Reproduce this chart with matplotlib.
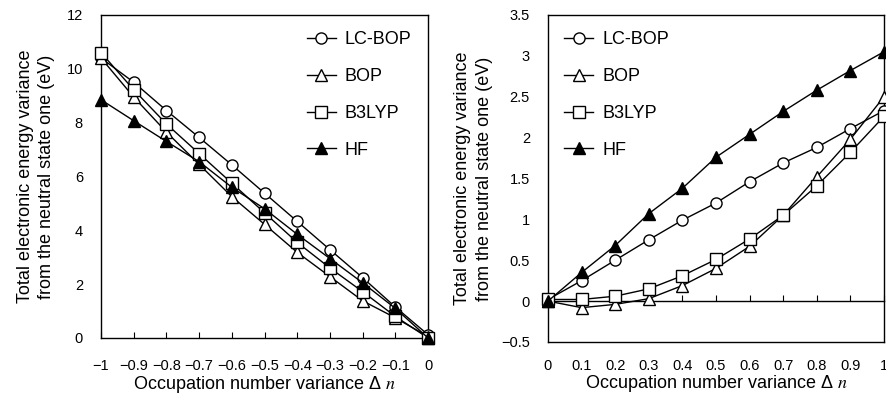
import matplotlib
matplotlib.use("Agg")
import matplotlib.pyplot as plt

plt.rcParams['font.family'] = ['Liberation Sans', 'DejaVu Sans']
plt.rcParams['mathtext.fontset'] = 'stix'

# left panel: negative occupation change
x_left = [-1.0, -0.9, -0.8, -0.7, -0.6, -0.5, -0.4, -0.3, -0.2, -0.1, 0.0]
lcbop_left = [10.4, 9.5, 8.45, 7.45, 6.43, 5.38, 4.33, 3.28, 2.24, 1.15, 0.12]
bop_left = [10.4, 8.95, 7.65, 6.45, 5.25, 4.22, 3.18, 2.28, 1.38, 0.75, 0.05]
b3lyp_left = [10.6, 9.22, 7.95, 6.85, 5.75, 4.65, 3.55, 2.6, 1.72, 0.8, 0.0]
hf_left = [8.85, 8.07, 7.3, 6.55, 5.6, 4.8, 3.85, 2.95, 2.05, 1.1, 0.0]

# right panel: positive occupation change
x_right = [0.0, 0.1, 0.2, 0.3, 0.4, 0.5, 0.6, 0.7, 0.8, 0.9, 1.0]
lcbop_right = [0.02, 0.25, 0.5, 0.75, 0.99, 1.2, 1.46, 1.69, 1.88, 2.11, 2.33]
bop_right = [0.0, -0.08, -0.04, 0.03, 0.19, 0.4, 0.67, 1.05, 1.52, 1.98, 2.5]
b3lyp_right = [0.02, 0.02, 0.06, 0.15, 0.31, 0.51, 0.76, 1.05, 1.41, 1.82, 2.26]
hf_right = [0.0, 0.35, 0.68, 1.07, 1.38, 1.76, 2.04, 2.32, 2.58, 2.82, 3.05]

left_xticks = [-1, -0.9, -0.8, -0.7, -0.6, -0.5, -0.4, -0.3, -0.2, -0.1, 0]
left_xlabels = ['\u22121', '\u22120.9', '\u22120.8', '\u22120.7', '\u22120.6', '\u22120.5',
                '\u22120.4', '\u22120.3', '\u22120.2', '\u22120.1', '0']
left_yticks = [0, 2, 4, 6, 8, 10, 12]
right_xticks = [0, 0.1, 0.2, 0.3, 0.4, 0.5, 0.6, 0.7, 0.8, 0.9, 1]
right_xlabels = ['0', '0.1', '0.2', '0.3', '0.4', '0.5', '0.6', '0.7', '0.8', '0.9', '1']
right_yticks = [-0.5, 0, 0.5, 1, 1.5, 2, 2.5, 3, 3.5]
right_ylabels = ['\u22120.5', '0', '0.5', '1', '1.5', '2', '2.5', '3', '3.5']

names = ['LC-BOP', 'BOP', 'B3LYP', 'HF']
markers = ['o', '^', 's', '^']
faces = ['white', 'white', 'white', 'black']
ylab = 'Total electronic energy variance\nfrom the neutral state one (eV)'
xlab = 'Occupation number variance \u0394 $n$'

fig = plt.figure(figsize=(8.87, 3.96), dpi=100)
ax1 = fig.add_axes([0.1139, 0.1465, 0.3687, 0.8157])
ax2 = fig.add_axes([0.6178, 0.1364, 0.3788, 0.8258])

def draw(ax, x, series):
    for ys, name, m, fc in zip(series, names, markers, faces):
        ax.plot(x, ys, color='black', lw=1, marker=m, markersize=8,
                markerfacecolor=fc, markeredgecolor='black', markeredgewidth=1,
                label=name, clip_on=False, zorder=3)
    ax.legend(loc='upper left', frameon=False, fontsize=13, handlelength=1.6,
              handletextpad=0.5, labelspacing=1.1)
    for s in ax.spines.values():
        s.set_linewidth(1)

draw(ax1, x_left, [lcbop_left, bop_left, b3lyp_left, hf_left])
ax1.set_xlim(-1, 0)
ax1.set_ylim(0, 12)
ax1.set_xticks(left_xticks)
ax1.set_xticklabels(left_xlabels)
ax1.set_yticks(left_yticks)
ax1.tick_params(axis='x', direction='in', length=4, pad=15, labelsize=10.5)
ax1.tick_params(axis='y', length=0, pad=13, labelsize=10.5)
ax1.set_ylabel(ylab, fontsize=13, labelpad=8, linespacing=1.35)
ax1.set_xlabel(xlab, fontsize=13, labelpad=0.5)
ax1.get_legend().set_bbox_to_anchor((0.58, 1.0))

draw(ax2, x_right, [lcbop_right, bop_right, b3lyp_right, hf_right])
ax2.set_xlim(0, 1)
ax2.set_ylim(-0.5, 3.5)
ax2.spines['bottom'].set_position(('data', 0))
ax2.set_xticks(right_xticks)
ax2.tick_params(axis='x', direction='in', length=4, labelbottom=False)
ax2.set_yticks(right_yticks)
ax2.set_yticklabels(right_ylabels)
ax2.tick_params(axis='y', length=0, pad=13, labelsize=10.5)
ax2.set_ylabel(ylab, fontsize=13, labelpad=6, linespacing=1.35)
ax2.get_legend().set_bbox_to_anchor((0.0, 1.0))

sec = ax2.secondary_xaxis('bottom')
sec.set_xticks(right_xticks)
sec.set_xticklabels(right_xlabels)
sec.tick_params(length=0, pad=12, labelsize=10.5)
sec.spines['bottom'].set_linewidth(1)
sec.set_xlabel(xlab, fontsize=13, labelpad=0.5)

fig.savefig('out.png', dpi=100)
